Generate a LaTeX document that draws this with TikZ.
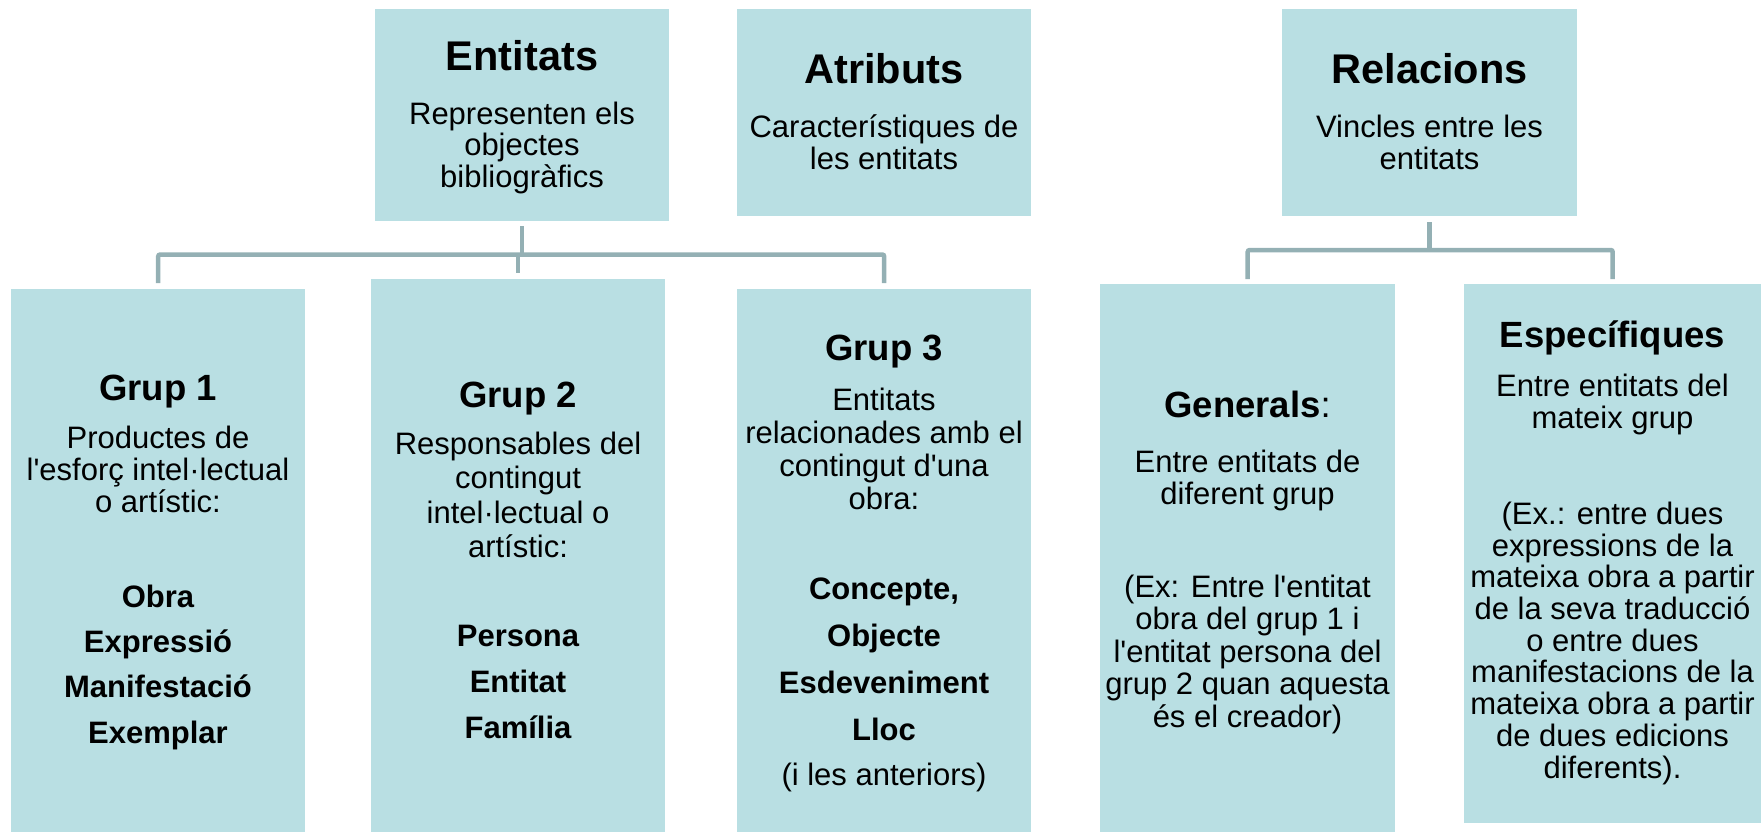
\documentclass[tikz,border=0pt]{standalone}
\usepackage{fontspec}
\setmainfont{Liberation Sans}[Ligatures=TeXOff]
\definecolor{boxfill}{HTML}{B9DFE3}
\definecolor{conncol}{HTML}{94B0B4}
\tikzset{
  box/.style={fill=boxfill, draw=none, inner sep=0pt, anchor=north west},
  conn/.style={draw=conncol, line width=4.5pt, rounded corners=2pt},
  bigtitle/.style={anchor=base, inner sep=0pt, font=\fontsize{41.5}{44}\selectfont\bfseries},
  subtitle/.style={anchor=base, inner sep=0pt, font=\fontsize{36.5}{40}\selectfont\bfseries},
  body/.style={anchor=base, inner sep=0pt, align=center, font=\fontsize{31}{#1}\selectfont},
  items/.style={anchor=base, inner sep=0pt, align=center, font=\fontsize{31}{#1}\selectfont\bfseries}
}
\begin{document}
\begin{tikzpicture}[x=1pt,y=-1pt]
\useasboundingbox (0,0) rectangle (1761,832);
% boxes
\node[box, minimum width=294pt, minimum height=212pt] (ent) at (375,9) {};
\node[box, minimum width=294pt, minimum height=207pt] (atr) at (737,9) {};
\node[box, minimum width=295pt, minimum height=207pt] (rel) at (1282,9) {};
\node[box, minimum width=294pt, minimum height=543pt] (g1) at (11,289) {};
\node[box, minimum width=294pt, minimum height=553pt] (g2) at (371,279) {};
\node[box, minimum width=294pt, minimum height=543pt] (g3) at (737,289) {};
\node[box, minimum width=295pt, minimum height=548pt] (gen) at (1100,284) {};
\node[box, minimum width=297pt, minimum height=539pt] (esp) at (1464,284) {};
% connectors
\coordinate (entbar) at (521.5,254.5);
\coordinate (relbar) at (1429.5,250);
\draw[conn] ([yshift=-5pt]ent.south) -- (ent.south |- entbar);
\draw[conn] ([yshift=6pt]g1.north) -- (g1.north |- entbar) -- (g3.north |- entbar) -- ([yshift=6pt]g3.north);
\draw[conn] (g2.north |- entbar) -- ([yshift=6pt]g2.north);
\draw[conn] ([yshift=-6pt]rel.south) -- (rel.south |- relbar);
\draw[conn] ([yshift=5pt]gen.north) -- (gen.north |- relbar) -- (esp.north |- relbar) -- ([yshift=5pt]esp.north);
% top texts (multi-line nodes are placed at the baseline of their last line)
\node[bigtitle] (entT) at (522,71) {Entitats};
\node[body=31.5] (entB) at (522,187) {Representen els\\objectes\\bibliogràfics};
\node[bigtitle] (atrT) at (884,84) {Atributs};
\node[body=32] (atrB) at (884,169) {Característiques de\\les entitats};
\node[bigtitle] (relT) at (1429.5,84) {Relacions};
\node[body=32] (relB) at (1429.5,169) {Vincles entre les\\entitats};
% grup 1
\node[subtitle] (g1T) at (158,400) {Grup 1};
\node[body=32] (g1B) at (158,512) {Productes de\\l'esforç intel·lectual\\o artístic:};
\node[items=45.3] (g1I) at (158,743) {Obra\\Expressió\\Manifestació\\Exemplar};
% grup 2
\node[subtitle] (g2T) at (518,407) {Grup 2};
\node[body=34.5] (g2B) at (518,557.5) {Responsables del\\contingut\\intel·lectual o\\artístic:};
\node[items=46] (g2I) at (518,738) {Persona\\Entitat\\Família};
% grup 3
\node[subtitle] (g3T) at (884,360) {Grup 3};
\node[body=33] (g3B) at (884,509) {Entitats\\relacionades amb el\\contingut d'una\\obra:};
\node[items=46.7] (g3I) at (884,740) {Concepte,\\Objecte\\Esdeveniment\\Lloc};
\node[body=32] (g3E) at (884,785) {(i les anteriors)};
% generals
\node[subtitle] (genT) at (1247.5,417) {Generals{\mdseries :}};
\node[body=32] (genB) at (1247.5,504) {Entre entitats de\\diferent grup};
\node[body=32.5] (genE) at (1247.5,727) {(Ex: Entre l'entitat\\obra del grup 1 i\\l'entitat persona del\\grup 2 quan aquesta\\és el creador)};
% especifiques
\node[subtitle] (espT) at (1612.5,347) {Específiques};
\node[body=32] (espB) at (1612.5,428) {Entre entitats del\\mateix grup};
\node[body=31.7] (espE) at (1612.5,778) {(Ex.: entre dues\\expressions de la\\mateixa obra a partir\\de la seva traducció\\o entre dues\\manifestacions de la\\mateixa obra a partir\\de dues edicions\\diferents).};
\end{tikzpicture}
\end{document}
